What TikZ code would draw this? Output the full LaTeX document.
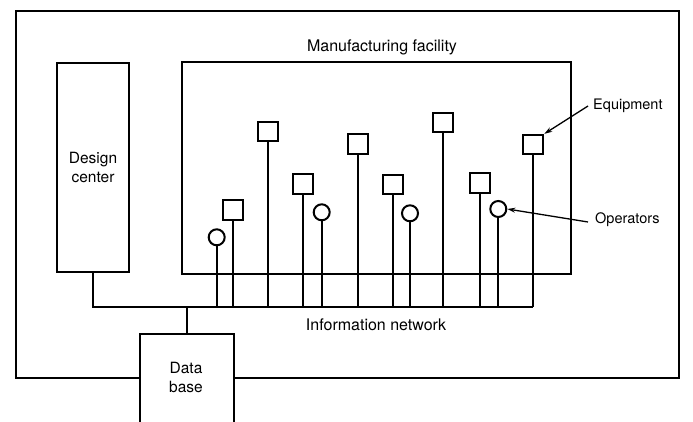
\documentclass[tikz,border=0pt]{standalone}
\usepackage{fontspec}
\setmainfont{TeX Gyre Heros}
\usetikzlibrary{arrows.meta}
\begin{document}
\begin{tikzpicture}[x=1pt,y=-1pt,
  line/.style={line width=2pt},
  box/.style={draw,line width=2pt,fill=white},
  equip/.style={draw,line width=2pt,minimum width=20pt,minimum height=19.5pt,inner sep=0pt,fill=white},
  oper/.style={draw,circle,line width=2pt,minimum size=16pt,inner sep=0pt,fill=white},
  lbl/.style={font=\fontsize{16}{19}\selectfont,inner sep=0pt,align=center},
  boxlbl/.style={font=\fontsize{15.5}{18.5}\selectfont,inner sep=0pt,align=center},
  sidelbl/.style={font=\fontsize{14.5}{18}\selectfont,inner sep=0pt},
  pointer/.style={line width=1.3pt,-{Stealth[length=8pt,width=5pt]}}]
\useasboundingbox (0,0) rectangle (693,422);
% outer frame
\node[box,fill=none,minimum width=663pt,minimum height=367pt,anchor=north west,inner sep=0pt] (outer) at (15,10) {};
% manufacturing facility
\node[box,fill=none,minimum width=389pt,minimum height=211pt,anchor=north west,inner sep=0pt] (mf) at (180.5,61.5) {};
\node[lbl] (mftitle) at (382,47) {Manufacturing facility};
% design center
\node[box,minimum width=72pt,minimum height=209pt,anchor=north west,inner sep=0pt,boxlbl] (dc) at (56,62) {Design\\center};
% network
\coordinate (netR) at (533.3,307);
\draw[line] (dc.south) |- (netR);
\node[lbl] (netlbl) at (376,325) {Information network};
% data base
\node[box,minimum width=94pt,minimum height=100pt,anchor=north west,inner sep=0pt] (db) at (139,333) {};
\node[boxlbl] (dbtxt) at (186,377.5) {Data\\base};
\draw[line] (db.north) -- (db.north |- netR);
% equipment squares
\node[equip] (e1) at (233.3,210) {};
\node[equip] (e2) at (268.3,131.3) {};
\node[equip] (e3) at (303.3,184) {};
\node[equip] (e4) at (357.7,144.2) {};
\node[equip] (e5) at (392.7,184.5) {};
\node[equip] (e6) at (443.3,122.3) {};
\node[equip] (e7) at (480,183) {};
\node[equip] (e8) at (533.3,144.6) {};
% operators
\node[oper] (o1) at (216.7,237.3) {};
\node[oper] (o2) at (321.7,212.3) {};
\node[oper] (o3) at (410,213.3) {};
\node[oper] (o4) at (498.3,209) {};
% stems
\foreach \n in {e1,e2,e3,e4,e5,e6,e7,e8,o1,o2,o3,o4}
  \draw[line] (\n.south) -- (\n.south |- netR);
% labels with pointers
\node[sidelbl,anchor=west] (eqlbl) at (593,106) {Equipment};
\node[sidelbl,anchor=west] (oplbl) at (595,220) {Operators};
\draw[pointer] ([xshift=-5pt]eqlbl.west) -- (e8.north east);
\draw[pointer] ([xshift=-7pt,yshift=-2pt]oplbl.west) -- (o4.east);
\end{tikzpicture}
\end{document}
